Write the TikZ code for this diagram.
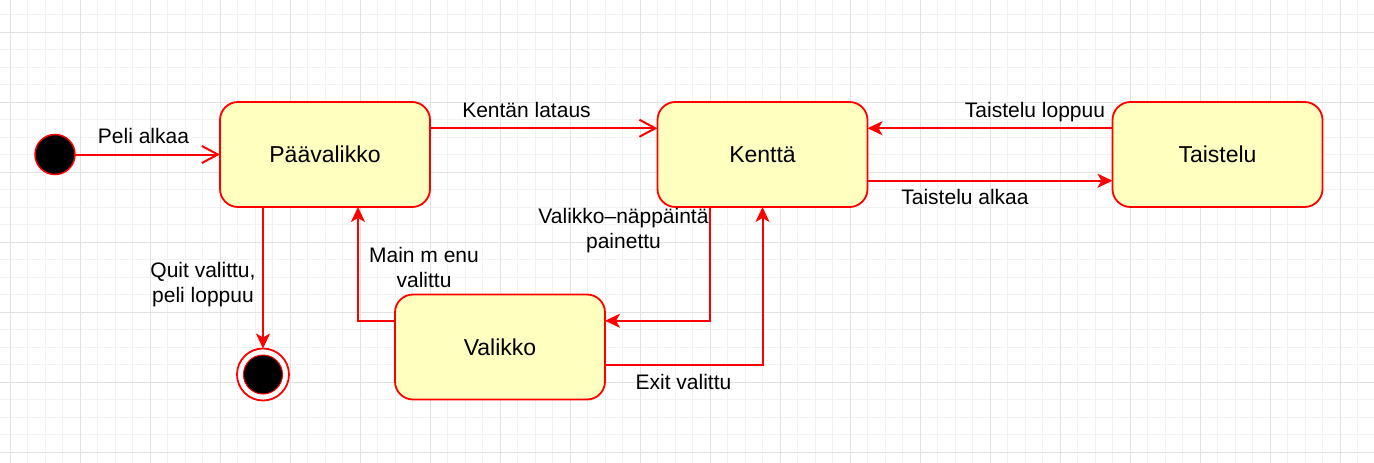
\documentclass[tikz,border=0pt]{standalone}
\usepackage{fontspec}
\setmainfont{Liberation Sans}
\usetikzlibrary{arrows.meta,calc}
\definecolor{nodefill}{HTML}{FFFFC0}
\definecolor{gridminor}{HTML}{F2F2F2}
\definecolor{gridmajor}{HTML}{E2E2E2}
\begin{document}
\begin{tikzpicture}[x=1pt,y=-1pt,
  state/.style={draw=red, line width=1.8pt, fill=nodefill, rounded corners=18pt,
    minimum width=210pt, minimum height=105pt, inner sep=0pt, outer sep=0pt,
    font=\fontsize{23}{28}\selectfont},
  conn/.style={draw=red, line width=2pt},
  openarr/.style={conn, -{Straight Barb[length=16pt,width=17pt,line width=2pt]}},
  fillarr/.style={conn, -{Stealth[length=15pt,width=14pt,inset=4pt]}},
  lbl/.style={font=\fontsize{21}{25}\selectfont, align=center, inner sep=0pt},
  one/.style={lbl, text height=15pt, text depth=0pt}]
\fill[white] (0,0) rectangle (1374,463);
\useasboundingbox (0,0) rectangle (1374,463);
% grid
\foreach \i in {0,...,78} \draw[gridminor, line width=1pt] ({10+17.5*\i},0) -- ({10+17.5*\i},463);
\foreach \j in {0,...,26} \draw[gridminor, line width=1pt] (0,{14.5+17.5*\j}) -- (1374,{14.5+17.5*\j});
\foreach \i in {0,...,19} \draw[gridmajor, line width=1pt] ({10+70*\i},0) -- ({10+70*\i},463);
\foreach \j in {0,...,6} \draw[gridmajor, line width=1pt] (0,{32+70*\j}) -- (1374,{32+70*\j});
% nodes
\node[circle, draw=red, fill=black, line width=1.5pt, minimum size=40pt, inner sep=0pt, outer sep=0pt] (init) at (55,154.5) {};
\node[state] (pv) at (325,154.5) {Päävalikko};
\node[state] (kentta) at (762.5,154.5) {Kenttä};
\node[state] (taistelu) at (1217.5,154.5) {Taistelu};
\node[state] (valikko) at (500,347) {Valikko};
\node[circle, draw=red, fill=white, line width=1.8pt, minimum size=52pt, inner sep=0pt, outer sep=0pt] (final) at (263,374.5) {};
\node[circle, draw=red, fill=black, line width=1pt, minimum size=39pt, inner sep=0pt] (finalin) at (final.center) {};
% connectors
\draw[openarr] (init.east) -- (pv.west);
\draw[openarr] ($(pv.north east)!0.25!(pv.south east)$) -- ($(kentta.north west)!0.25!(kentta.south west)$);
\draw[fillarr] ($(taistelu.north west)!0.25!(taistelu.south west)$) -- ($(kentta.north east)!0.25!(kentta.south east)$);
\draw[fillarr] ($(kentta.north east)!0.75!(kentta.south east)$) -- ($(taistelu.north west)!0.75!(taistelu.south west)$);
\draw[fillarr] (263,0 |- pv.south) -- (final.north);
\draw[fillarr] ($(valikko.north west)!0.25!(valikko.south west)$) -| (358,0 |- pv.south);
\draw[fillarr] (710,0 |- kentta.south) |- ($(valikko.north east)!0.25!(valikko.south east)$);
\draw[fillarr] ($(valikko.north east)!0.667!(valikko.south east)$) -| (kentta.south);
% labels
\node[one] (lpeli) at (143.5,135.5) {Peli alkaa};
\node[one] (lkentan) at (526.5,110) {Kentän lataus};
\node[one] (lloppuu) at (1035,110) {Taistelu loppuu};
\node[one] (lalkaa) at (965,196.5) {Taistelu alkaa};
\node[lbl] (lquit) at (203,285) {Quit valittu,\\peli loppuu};
\node[lbl] (lmain) at (424,267) {Main m enu\\valittu};
\node[lbl] (lvalnap) at (623.5,231) {Valikko–näppäintä\\painettu};
\node[one] (lexit) at (683.5,381.5) {Exit valittu};
\end{tikzpicture}
\end{document}
